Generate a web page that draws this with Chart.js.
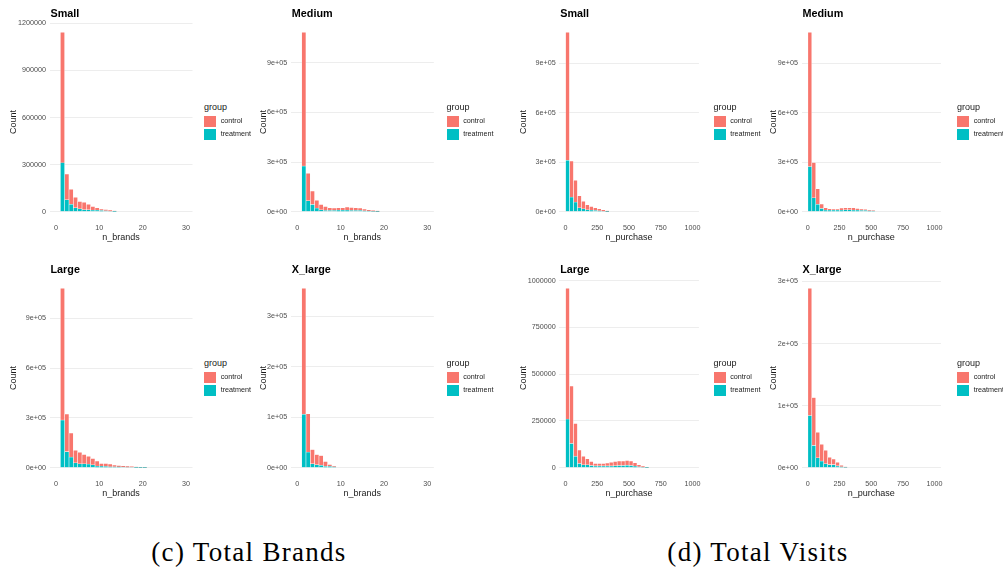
<!DOCTYPE html>
<html>
<head>
<meta charset="utf-8">
<script src="https://cdn.jsdelivr.net/npm/chart.js@4.4.0/dist/chart.umd.min.js"></script>
<style>
  html, body { margin: 0; padding: 0; background: #ffffff; }
  body { width: 1003px; height: 574px; position: relative; overflow: hidden;
         font-family: "Liberation Sans", Arial, sans-serif; }
  canvas.panel { position: absolute; }
  .lg-title { position: absolute; font-size: 9px; line-height: 10px; color: #1a1a1a; white-space: nowrap; }
  .lg-key { position: absolute; width: 12px; height: 11.5px; }
  .lg-text { position: absolute; font-size: 7.2px; line-height: 8px; color: #1a1a1a; white-space: nowrap; }
  .caption { position: absolute; font-family: "Liberation Serif", "Times New Roman", serif;
             font-size: 27px; line-height: 30px; color: #000; white-space: nowrap;
             letter-spacing: 1.3px; transform: translateX(-50%); }
</style>
</head>
<body>
<script>
// ---- histogram bins (left edge of each bin) ----
const brandBinStart = [1, 2, 3, 4, 5, 6, 7, 8, 9, 10, 11, 12, 13, 14, 15, 16, 17, 18, 19, 20];
const brandBinWidth = 1;
const purchaseBinStart = [0, 31.25, 62.5, 93.75, 125, 156.25, 187.5, 218.75, 250, 281.25, 312.5,
                          343.75, 375, 406.25, 437.5, 468.75, 500, 531.25, 562.5, 593.75, 625];
const purchaseBinWidth = 31.25;

// ---- counts per bin: n_brands ----
const smallBrandsControl     = [830000, 163000, 96000, 66000, 47000, 47000, 34000, 23000, 15000, 9000, 9000, 8000, 5000];
const smallBrandsTreatment   = [313000, 77000, 47000, 26000, 19000, 13000, 13000, 11000, 11000, 8000, 6000, 3000, 1000];
const mediumBrandsControl    = [807000, 165000, 81000, 47000, 32000, 24000, 16000, 14000, 14000, 14000, 18000, 18000, 16000, 14000, 10000, 8000, 6000, 5000];
const mediumBrandsTreatment  = [277000, 67000, 44000, 22000, 12000, 8000, 8000, 8000, 10000, 10000, 10000, 8000, 8000, 8000, 6000, 4000, 2000, 1000];
const largeBrandsControl     = [793000, 227000, 145000, 75000, 69000, 56000, 48000, 38000, 30000, 16000, 18000, 16000, 10000, 9000, 8000, 6000, 5000, 5000, 3500, 3700];
const largeBrandsTreatment   = [288000, 97000, 64000, 30000, 24000, 24000, 22000, 18000, 10000, 10000, 8000, 6000, 6000, 5000, 4000, 4000, 3000, 1000, 500, 300];
const xlargeBrandsControl    = [249000, 76000, 28000, 20000, 19000, 9500, 4000, 2000];
const xlargeBrandsTreatment  = [106000, 31000, 8000, 6000, 5000, 3000, 2600, 2000];

// ---- counts per bin: n_purchase ----
const smallPurchaseControl    = [776000, 219000, 132000, 73000, 45000, 31000, 22000, 16000, 12000, 9000, 5000];
const smallPurchaseTreatment  = [312000, 89000, 59000, 24000, 18000, 12000, 10000, 8000, 6000, 3000, 1000];
const mediumPurchaseControl   = [814000, 213000, 95000, 27000, 14000, 8000, 6000, 6000, 12000, 12000, 12000, 14000, 10000, 8000, 6000, 4000, 4000];
const mediumPurchaseTreatment = [274000, 85000, 45000, 20000, 10000, 10000, 10000, 10000, 10000, 12000, 12000, 10000, 10000, 8000, 8000, 6000, 4000];
const largePurchaseControl    = [699000, 307000, 175000, 72000, 46000, 32000, 22000, 13000, 13000, 13000, 15000, 20000, 23000, 24000, 24000, 25000, 24000, 18000, 11000, 7000, 2500];
const largePurchaseTreatment  = [260000, 130000, 62000, 23000, 16000, 16000, 12000, 10000, 10000, 10000, 10000, 10000, 11000, 12000, 12000, 14000, 12000, 9000, 5000, 2000, 500];
const xlargePurchaseControl   = [205000, 77000, 41000, 27000, 21500, 12000, 9000, 6000, 2500, 1100];
const xlargePurchaseTreatment = [84000, 36000, 16000, 11000, 6500, 5000, 5000, 3000, 1500, 500];

// ---- axis ticks ----
const brandTicks = [0, 10, 20, 30];
const brandRange = [0, 30];
const purchaseTicks = [0, 250, 500, 750, 1000];
const purchaseRange = [0, 1000];
const plainMillionTicks = [0, 300000, 600000, 900000, 1200000];
const plainMillionLabels = ['0', '300000', '600000', '900000', '1200000'];
const sciNineTicks = [0, 300000, 600000, 900000];
const sciNineLabels = ['0e+00', '3e+05', '6e+05', '9e+05'];
const sciThreeTicks = [0, 100000, 200000, 300000];
const sciThreeLabels = ['0e+00', '1e+05', '2e+05', '3e+05'];
const plainQuarterTicks = [0, 250000, 500000, 750000, 1000000];
const plainQuarterLabels = ['0', '250000', '500000', '750000', '1000000'];

const groupNames = ['control', 'treatment'];
const groupColors = { control: '#F8766D', treatment: '#00BFC4' };

// ---- page layout (pixels) ----
const columns = [
  { canvasLeft: 0,   plotLeft: 49.5,  plotRight: 192.5, legendLeft: 204 },
  { canvasLeft: 250, plotLeft: 290.8, plotRight: 433.8, legendLeft: 446.5 },
  { canvasLeft: 510, plotLeft: 559.2, plotRight: 701.5, legendLeft: 713.5 },
  { canvasLeft: 760, plotLeft: 801.5, plotRight: 943.8, legendLeft: 957 }
];
const rows = [ { top: 0 }, { top: 256 } ];
const CANVAS_H = 246, PLOT_TOP = 23.3, PLOT_BOTTOM = 220.7;

const panels = [
  { title: 'Small',   xLabel: 'n_brands',   col: 0, row: 0, bins: brandBinStart, w: brandBinWidth, range: brandRange, xTicks: brandTicks,
    control: smallBrandsControl, treatment: smallBrandsTreatment, yTicks: plainMillionTicks, yLabels: plainMillionLabels },
  { title: 'Medium',  xLabel: 'n_brands',   col: 1, row: 0, bins: brandBinStart, w: brandBinWidth, range: brandRange, xTicks: brandTicks,
    control: mediumBrandsControl, treatment: mediumBrandsTreatment, yTicks: sciNineTicks, yLabels: sciNineLabels },
  { title: 'Large',   xLabel: 'n_brands',   col: 0, row: 1, bins: brandBinStart, w: brandBinWidth, range: brandRange, xTicks: brandTicks,
    control: largeBrandsControl, treatment: largeBrandsTreatment, yTicks: sciNineTicks, yLabels: sciNineLabels },
  { title: 'X_large', xLabel: 'n_brands',   col: 1, row: 1, bins: brandBinStart, w: brandBinWidth, range: brandRange, xTicks: brandTicks,
    control: xlargeBrandsControl, treatment: xlargeBrandsTreatment, yTicks: sciThreeTicks, yLabels: sciThreeLabels },
  { title: 'Small',   xLabel: 'n_purchase', col: 2, row: 0, bins: purchaseBinStart, w: purchaseBinWidth, range: purchaseRange, xTicks: purchaseTicks,
    control: smallPurchaseControl, treatment: smallPurchaseTreatment, yTicks: sciNineTicks, yLabels: sciNineLabels },
  { title: 'Medium',  xLabel: 'n_purchase', col: 3, row: 0, bins: purchaseBinStart, w: purchaseBinWidth, range: purchaseRange, xTicks: purchaseTicks,
    control: mediumPurchaseControl, treatment: mediumPurchaseTreatment, yTicks: sciNineTicks, yLabels: sciNineLabels },
  { title: 'Large',   xLabel: 'n_purchase', col: 2, row: 1, bins: purchaseBinStart, w: purchaseBinWidth, range: purchaseRange, xTicks: purchaseTicks,
    control: largePurchaseControl, treatment: largePurchaseTreatment, yTicks: plainQuarterTicks, yLabels: plainQuarterLabels },
  { title: 'X_large', xLabel: 'n_purchase', col: 3, row: 1, bins: purchaseBinStart, w: purchaseBinWidth, range: purchaseRange, xTicks: purchaseTicks,
    control: xlargePurchaseControl, treatment: xlargePurchaseTreatment, yTicks: sciThreeTicks, yLabels: sciThreeLabels }
];

const FONT = '"Liberation Sans", Arial, sans-serif';

// Panel heading drawn flush with the left edge of the plotting area
const panelTitlePlugin = {
  id: 'panelTitle',
  afterDraw(chart, args, opts) {
    const ctx = chart.ctx;
    ctx.save();
    ctx.font = 'bold 10.8px ' + FONT;
    ctx.fillStyle = '#000000';
    ctx.textAlign = 'left';
    ctx.textBaseline = 'middle';
    ctx.fillText(opts.text, chart.chartArea.left + 1, 14);
    ctx.restore();
  }
};

function makeLegend(col, row) {
  const x = columns[col].legendLeft;
  const y0 = rows[row].top;
  const t = document.createElement('div');
  t.className = 'lg-title'; t.textContent = 'group';
  t.style.left = x + 'px'; t.style.top = (y0 + 102.3) + 'px';
  document.body.appendChild(t);
  groupNames.forEach((g, i) => {
    const k = document.createElement('div');
    k.className = 'lg-key';
    k.style.background = groupColors[g];
    k.style.left = x + 'px'; k.style.top = (y0 + 115.7 + i * 12.8) + 'px';
    document.body.appendChild(k);
    const s = document.createElement('div');
    s.className = 'lg-text'; s.textContent = g;
    s.style.left = (x + 16.7) + 'px'; s.style.top = (y0 + 117 + i * 13.3) + 'px';
    document.body.appendChild(s);
  });
}

panels.forEach(p => {
  const c = columns[p.col], r = rows[p.row];
  const canvas = document.createElement('canvas');
  canvas.className = 'panel';
  const width = Math.ceil(c.plotRight - c.canvasLeft + 2);
  canvas.width = width; canvas.height = CANVAS_H;
  canvas.style.left = c.canvasLeft + 'px';
  canvas.style.top = r.top + 'px';
  canvas.style.width = width + 'px'; canvas.style.height = CANVAS_H + 'px';
  document.body.appendChild(canvas);

  const totals = p.control.map((v, i) => v + p.treatment[i]);
  const peak = Math.max(...totals);
  const xSpan = p.range[1] - p.range[0];
  const yAxisW = c.plotLeft - c.canvasLeft;
  const rightPad = width - (c.plotRight - c.canvasLeft);

  const toPoints = arr => arr.map((v, i) => ({ x: p.bins[i] + p.w / 2, y: v }));

  new Chart(canvas, {
    type: 'bar',
    data: {
      datasets: [
        { label: 'treatment', data: toPoints(p.treatment), backgroundColor: groupColors.treatment,
          borderColor: 'rgba(255,255,255,0.45)', borderWidth: 0.6 },
        { label: 'control', data: toPoints(p.control), backgroundColor: groupColors.control,
          borderColor: 'rgba(255,255,255,0.45)', borderWidth: 0.6 }
      ]
    },
    options: {
      responsive: false,
      animation: false,
      events: [],
      devicePixelRatio: 1,
      layout: { padding: { left: 0, right: rightPad, top: PLOT_TOP, bottom: 0 } },
      datasets: { bar: { barPercentage: 1, categoryPercentage: 1 } },
      plugins: {
        legend: { display: false },
        tooltip: { enabled: false },
        title: { display: false },
        panelTitle: { text: p.title }
      },
      scales: {
        x: {
          type: 'linear', stacked: true, offset: false,
          min: p.range[0] - 0.05 * xSpan, max: p.range[1] + 0.05 * xSpan,
          grid: { display: false, drawTicks: false, offset: false },
          border: { display: false },
          afterBuildTicks: ax => { ax.ticks = p.xTicks.map(v => ({ value: v })); },
          afterFit: ax => { ax.height = CANVAS_H - PLOT_BOTTOM; },
          ticks: { padding: 3.3, color: '#4d4d4d', font: { family: FONT, size: 7.2 },
                   maxRotation: 0, autoSkip: false, callback: v => String(v) },
          title: { display: true, text: p.xLabel, color: '#1a1a1a', font: { family: FONT, size: 9 },
                   padding: { top: 0, bottom: 3.3 } }
        },
        y: {
          stacked: true,
          min: -0.05 * peak, max: 1.05 * peak,
          grid: { color: '#EDEDED', lineWidth: 1, drawTicks: false },
          border: { display: false },
          afterBuildTicks: ax => { ax.ticks = p.yTicks.map(v => ({ value: v })); },
          afterFit: ax => { ax.width = yAxisW; },
          ticks: { padding: 3.5, color: '#4d4d4d', font: { family: FONT, size: 7.2 }, autoSkip: false,
                   callback: (v, i) => p.yLabels[i] },
          title: { display: true, text: 'Count', color: '#1a1a1a', font: { family: FONT, size: 9 },
                   padding: { top: 8.3, bottom: 0 } }
        }
      }
    },
    plugins: [panelTitlePlugin]
  });
});

// one legend beside every panel
panels.forEach(p => makeLegend(p.col, p.row));

// sub-figure captions
[['(c) Total Brands', 249, 537], ['(d) Total Visits', 758, 537]].forEach(([txt, cx, top]) => {
  const d = document.createElement('div');
  d.className = 'caption'; d.textContent = txt;
  d.style.left = cx + 'px'; d.style.top = top + 'px';
  document.body.appendChild(d);
});
</script>
</body>
</html>
